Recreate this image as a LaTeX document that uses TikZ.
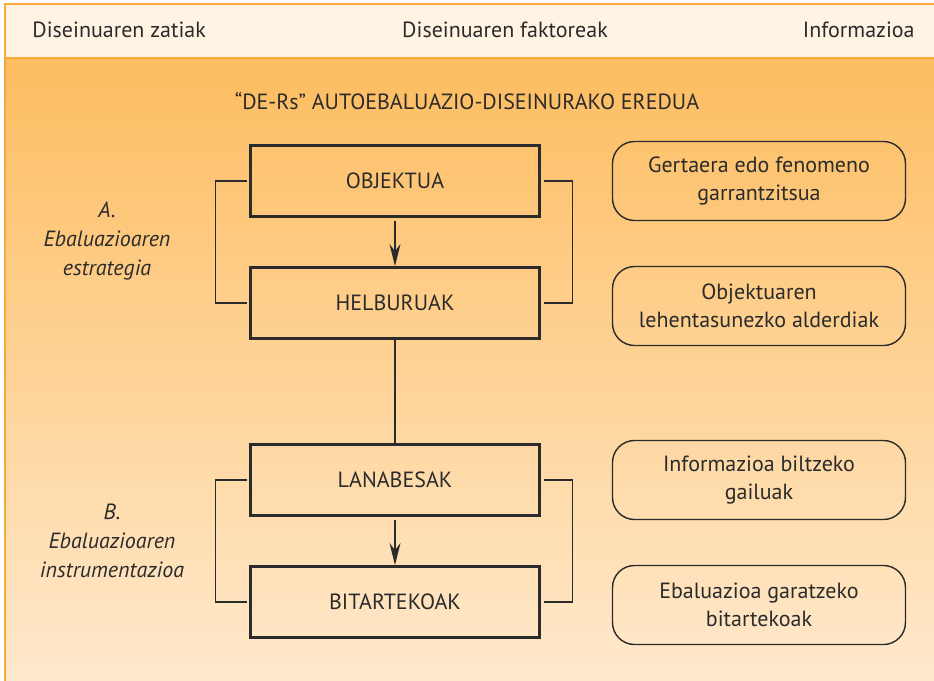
\documentclass[tikz,border=0pt]{standalone}
\usepackage{fontspec}
\setmainfont{PT Sans}
\usetikzlibrary{arrows.meta,positioning}

\definecolor{frameorange}{HTML}{F7AA3A}
\definecolor{headcream}{HTML}{FFF3E4}
\definecolor{toporange}{HTML}{FDBD60}
\definecolor{botorange}{HTML}{FFE9CD}
\definecolor{inkgray}{HTML}{2B2B2B}

\tikzset{
  factor/.style={draw=inkgray, line width=1.5pt, minimum width=144.5pt, minimum height=35.5pt, inner sep=0pt, outer sep=0pt},
  infobox/.style={draw=inkgray, line width=0.7pt, rounded corners=11pt, minimum width=146.5pt, minimum height=39.5pt, align=center, inner sep=0pt, outer sep=0pt},
  bracket/.style={draw=inkgray, line width=0.6pt},
  partlabel/.style={align=center, font=\itshape\fontsize{11}{14.5}\selectfont},
  headlabel/.style={font=\fontsize{11}{13}\selectfont, text=inkgray, inner sep=0pt}
}

\begin{document}
\begin{tikzpicture}[x=0.5pt,y=-0.5pt,>={Stealth[length=11pt,width=5.5pt]},node distance=25.5pt,
  every node/.style={text=inkgray, font=\fontsize{11}{14}\selectfont}]
    \useasboundingbox (0,0) rectangle (934,681);
    % background and header
    \shade[top color=toporange, bottom color=botorange] (5,58) rectangle (934,681);
    \fill[headcream] (5,4) rectangle (934,58);
    \draw[frameorange, line width=1pt] (934,4) -- (5,4) -- (5,681);
    \draw[frameorange, line width=1pt] (5,58) -- (934,58);

    \node[headlabel, anchor=west] (zatiak) at (32,30) {Diseinuaren zatiak};
    \node[headlabel] (faktoreak) at (505,30) {Diseinuaren faktoreak};
    \node[headlabel, anchor=east] (informazioa) at (915,30) {Informazioa};

    \node (title) at (467,101) {``DE-Rs'' AUTOEBALUAZIO-DISEINURAKO EREDUA};

    % factors
    \node[factor] (objektua) at (395,181) {OBJEKTUA};
    \node[factor, below=of objektua] (helburuak) {HELBURUAK};
    \node[factor, below=53pt of helburuak] (lanabesak) {LANABESAK};
    \node[factor, below=of lanabesak] (bitartekoak) {BITARTEKOAK};

    \draw[->, inkgray, line width=0.7pt, shorten <=2pt, shorten >=0.75pt] (objektua) -- (helburuak);
    \draw[inkgray, line width=0.7pt] (helburuak) -- (lanabesak);
    \draw[->, inkgray, line width=0.7pt, shorten <=2pt, shorten >=0.75pt] (lanabesak) -- (bitartekoak);

    % brackets
    \draw[bracket] ([xshift=-2pt]objektua.west) -- ++(-15.5pt,0) |- ([xshift=-2pt]helburuak.west);
    \draw[bracket] ([xshift=2pt]objektua.east) -- ++(14.5pt,0) |- ([xshift=2pt]helburuak.east);
    \draw[bracket] ([xshift=-2pt]lanabesak.west) -- ++(-15.5pt,0) |- ([xshift=-2pt]bitartekoak.west);
    \draw[bracket] ([xshift=2pt]lanabesak.east) -- ++(14.5pt,0) |- ([xshift=2pt]bitartekoak.east);

    % information
    \node[infobox, right=36.5pt of objektua] (gertaera) {Gertaera edo fenomeno\\garrantzitsua};
    \node[infobox, right=36.5pt of helburuak, yshift=-1.5pt] (alderdiak) {Objektuaren\\lehentasunezko alderdiak};
    \node[infobox, right=36.5pt of lanabesak] (gailuak) {Informazioa biltzeko\\gailuak};
    \node[infobox, right=36.5pt of bitartekoak, yshift=-1.5pt] (bitarteko) {Ebaluazioa garatzeko\\bitartekoak};

    % parts
    \node[partlabel] (estrategia) at (107,241) {A.\\Ebaluazioaren\\estrategia};
    \node[partlabel] (instrument) at (112,541) {B.\\Ebaluazioaren\\instrumentazioa};
\end{tikzpicture}
\end{document}
